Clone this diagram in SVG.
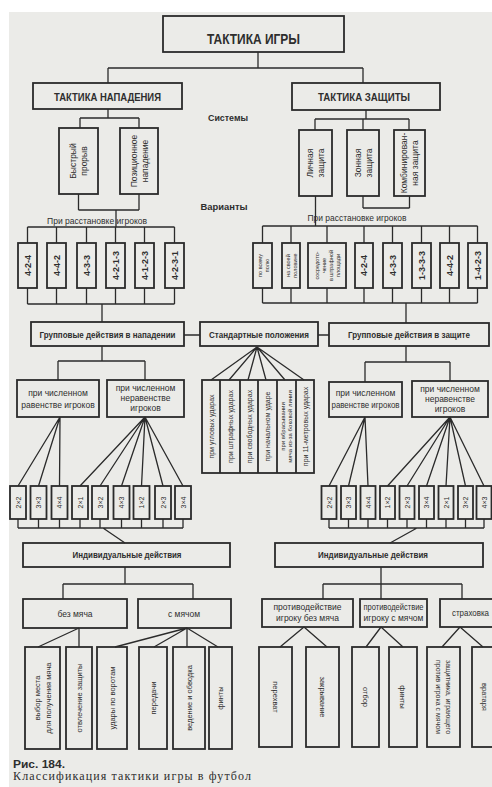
<svg xmlns="http://www.w3.org/2000/svg" width="492" height="787" viewBox="0 0 492 787">
<style>
.ln{stroke:#2b2b2b;stroke-width:1.3;fill:none}
.bx{fill:none;stroke:#2b2b2b;stroke-width:1.8}
text{font-family:"Liberation Sans","DejaVu Sans",sans-serif;fill:#2e2e2e}
.h1{font-size:14px;font-weight:bold}
.h2{font-size:10.5px;font-weight:bold}
.lb{font-size:9px;font-weight:bold}
.m{font-size:8.5px}
.r{font-size:8.5px;text-anchor:middle}
.v{font-size:9px;font-weight:bold;text-anchor:middle}
.s{font-size:7px;text-anchor:middle}
.xs{font-size:5.5px;text-anchor:middle}
.c{text-anchor:middle}
</style>
<rect x="0" y="0" width="492" height="787" fill="#ffffff"/>
<rect x="9" y="12" width="483" height="775" fill="#ebebe8"/>

<g id="connectors">
<path class="ln" d="M258,52V68M108,68H363M108,68V83M363,68V83"/>
<path class="ln" d="M108,109V118M80,118H139M80,118V128M139,118V128"/>
<path class="ln" d="M366,110V119M315,119H409M315,119V130M363,119V130M409,119V130"/>
<path class="ln" d="M78.5,194V210M139,194V210M78.5,210H139M116,210V227"/>
<path class="ln" d="M27.5,227H174.5M27.5,227V243M56.5,227V243M86.5,227V243M115.5,227V243M144.5,227V243M174.5,227V243"/>
<path class="ln" d="M315.5,196V226M363,196V208M409.5,196V208M363,208H409.5"/>
<path class="ln" d="M262.5,226H477.5M262.5,226V243M291,226V243M327,226V243M364,226V243M392.5,226V243M421.5,226V243M449.5,226V243M477.5,226V243"/>
<path class="ln" d="M27.5,288V304M56.5,288V304M86.5,288V304M115.5,288V304M144.5,288V304M174.5,288V304M27.5,304H174.5M102,304V322"/>
<path class="ln" d="M262.5,288V303M291,288V303M327,288V303M364,288V303M392.5,288V303M421.5,288V303M449.5,288V303M477.5,288V303M262.5,303H477.5M406,303V323"/>
<path class="ln" d="M184,335H200M318,335H329"/>
<path class="ln" d="M102,346V361M58,361H145M58,361V380M145,361V380"/>
<path class="ln" d="M406,346V362M365,362H450M365,362V382M450,362V381"/>
<path class="ln" d="M257,347L211,380M257,347L229,380M257,347L248,380M257,347L266,380M257,347L285,380M257,347L304,380"/>
<path class="ln" d="M60,417L18,486M60,417L38.5,486M60,417L59.5,486"/>
<path class="ln" d="M145,417L80,486M145,417L100,486M145,417L121.5,486M145,417L141.5,486M145,417L163,486M145,417L183,486"/>
<path class="ln" d="M365,417L329,486M365,417L348.5,486M365,417L368,486"/>
<path class="ln" d="M450,417L387.5,486M450,417L407,486M450,417L426.5,486M450,417L446,486M450,417L465.5,486M450,417L484,486"/>
<path class="ln" d="M18,519V528M38.5,519V528M59.5,519V528M80,519V528M100,519V528M121.5,519V528M141.5,519V528M163,519V528M183,519V528M18,528H183M103,528L125,543"/>
<path class="ln" d="M329,519V528M348.5,519V528M368,519V528M387.5,519V528M407,519V528M426.5,519V528M446,519V528M465.5,519V528M484,519V528M329,528H484M417,528L390,543"/>
<path class="ln" d="M125,567V584M63,584H193M63,584V599M193,584V599"/>
<path class="ln" d="M79,628L38,647M79,628V647M187,628L115,647M187,628L154,647M187,628V647M187,628L218,647"/>
<path class="ln" d="M381,567V599M323,584H462M323,584V599M462,584V599"/>
<path class="ln" d="M304,627L280,647M304,627L327,647M381,627L366,647M381,627L403,647M460,627L442,647M460,627L483,647"/>
</g>

<g id="n-root"><rect class="bx" x="163" y="16" width="181" height="36" stroke-width="2.5"/><text class="h1 c" x="253.5" y="44" textLength="93" lengthAdjust="spacingAndGlyphs">ТАКТИКА ИГРЫ</text></g>
<g id="n-attack"><rect class="bx" x="33" y="83" width="149" height="26"/><text class="h2 c" x="107.5" y="101" textLength="107" lengthAdjust="spacingAndGlyphs">ТАКТИКА НАПАДЕНИЯ</text></g>
<g id="n-defense"><rect class="bx" x="292" y="83" width="148" height="27"/><text class="h2 c" x="364" y="101" textLength="92" lengthAdjust="spacingAndGlyphs">ТАКТИКА ЗАЩИТЫ</text></g>
<g id="l-sys"><text class="lb c" x="228" y="121" textLength="40" lengthAdjust="spacingAndGlyphs">Системы</text></g>
<g id="l-var"><text class="lb c" x="224" y="210" textLength="47" lengthAdjust="spacingAndGlyphs">Варианты</text></g>

<g id="n-fast"><rect class="bx" x="59" y="128" width="39" height="66"/><text class="r" transform="translate(78.5,161) rotate(-90)"><tspan x="0" y="-2.5">Быстрый</tspan><tspan x="0" y="8.5">прорыв</tspan></text></g>
<g id="n-pos"><rect class="bx" x="120" y="128" width="38" height="66"/><text class="r" transform="translate(139,161) rotate(-90)"><tspan x="0" y="-2.5">Позиционное</tspan><tspan x="0" y="8.5">нападение</tspan></text></g>
<g id="n-personal"><rect class="bx" x="299" y="130" width="33" height="66"/><text class="r" transform="translate(315.5,163) rotate(-90)"><tspan x="0" y="-2.5">Личная</tspan><tspan x="0" y="8.5">защита</tspan></text></g>
<g id="n-zone"><rect class="bx" x="347" y="130" width="32" height="66"/><text class="r" transform="translate(363,163) rotate(-90)"><tspan x="0" y="-2.5">Зонная</tspan><tspan x="0" y="8.5">защита</tspan></text></g>
<g id="n-comb"><rect class="bx" x="394" y="130" width="31" height="66"/><text class="r" transform="translate(409.5,163) rotate(-90)"><tspan x="0" y="-2.5">Комбинирован-</tspan><tspan x="0" y="8.5">ная защита</tspan></text></g>

<g id="l-arr-left"><text class="m c" x="97" y="224" textLength="100" lengthAdjust="spacingAndGlyphs">При расстановке игроков</text></g>
<g id="l-arr-right"><text class="m c" x="357" y="221" textLength="99" lengthAdjust="spacingAndGlyphs">При расстановке игроков</text></g>

<g id="n-va1"><rect class="bx" x="18" y="243" width="19" height="45"/><text class="v" transform="translate(27.5,265.5) rotate(-90)" y="3.2">4-2-4</text></g>
<g id="n-va2"><rect class="bx" x="47" y="243" width="19" height="45"/><text class="v" transform="translate(56.5,265.5) rotate(-90)" y="3.2">4-4-2</text></g>
<g id="n-va3"><rect class="bx" x="77" y="243" width="19" height="45"/><text class="v" transform="translate(86.5,265.5) rotate(-90)" y="3.2">4-3-3</text></g>
<g id="n-va4"><rect class="bx" x="106" y="243" width="19" height="45"/><text class="v" transform="translate(115.5,265.5) rotate(-90)" y="3.2">4-2-1-3</text></g>
<g id="n-va5"><rect class="bx" x="135" y="243" width="19" height="45"/><text class="v" transform="translate(144.5,265.5) rotate(-90)" y="3.2">4-1-2-3</text></g>
<g id="n-va6"><rect class="bx" x="165" y="243" width="19" height="45"/><text class="v" transform="translate(174.5,265.5) rotate(-90)" y="3.2">4-2-3-1</text></g>

<g id="n-vd1"><rect class="bx" x="253" y="243" width="19" height="45"/><text class="xs" transform="translate(262.5,265.5) rotate(-90)"><tspan x="0" y="-1">по всему</tspan><tspan x="0" y="6">полю</tspan></text></g>
<g id="n-vd2"><rect class="bx" x="282" y="243" width="18" height="45"/><text class="xs" transform="translate(291,265.5) rotate(-90)"><tspan x="0" y="-1">на своей</tspan><tspan x="0" y="6">половине</tspan></text></g>
<g id="n-vd3"><rect class="bx" x="308" y="243" width="38" height="45"/><text class="xs" transform="translate(327,265.5) rotate(-90)"><tspan x="0" y="-8.5">сосредото-</tspan><tspan x="0" y="-1.5">чение</tspan><tspan x="0" y="5.5">в штрафной</tspan><tspan x="0" y="12.5">площади</tspan></text></g>
<g id="n-vd4"><rect class="bx" x="355" y="243" width="18" height="45"/><text class="v" transform="translate(364,265.5) rotate(-90)" y="3.2">4-2-4</text></g>
<g id="n-vd5"><rect class="bx" x="383" y="243" width="19" height="45"/><text class="v" transform="translate(392.5,265.5) rotate(-90)" y="3.2">4-3-3</text></g>
<g id="n-vd6"><rect class="bx" x="412" y="243" width="19" height="45"/><text class="v" transform="translate(421.5,265.5) rotate(-90)" y="3.2">1-3-3-3</text></g>
<g id="n-vd7"><rect class="bx" x="440" y="243" width="19" height="45"/><text class="v" transform="translate(449.5,265.5) rotate(-90)" y="3.2">4-4-2</text></g>
<g id="n-vd8"><rect class="bx" x="468" y="243" width="19" height="45"/><text class="v" transform="translate(477.5,265.5) rotate(-90)" y="3.2">1-4-2-3</text></g>

<g id="n-grp-att"><rect class="bx" x="31" y="322" width="153" height="24"/><text class="lb c" x="107.5" y="338" textLength="136" lengthAdjust="spacingAndGlyphs">Групповые действия в нападении</text></g>
<g id="n-std"><rect class="bx" x="200" y="322" width="118" height="24"/><text class="lb c" x="259" y="338" textLength="100" lengthAdjust="spacingAndGlyphs">Стандартные положения</text></g>
<g id="n-grp-def"><rect class="bx" x="329" y="323" width="160" height="23"/><text class="lb c" x="409" y="338" textLength="122" lengthAdjust="spacingAndGlyphs">Групповые действия в защите</text></g>

<g id="n-eq-att"><rect class="bx" x="17" y="380" width="82" height="37"/><text class="m c" x="58" y="396">при численном</text><text class="m c" x="58" y="408">равенстве игроков</text></g>
<g id="n-neq-att"><rect class="bx" x="107" y="380" width="77" height="37"/><text class="m c" x="145.5" y="391">при численном</text><text class="m c" x="145.5" y="401">неравенстве</text><text class="m c" x="145.5" y="411">игроков</text></g>
<g id="n-eq-def"><rect class="bx" x="329" y="382" width="73" height="35"/><text class="m c" x="365.5" y="396">при численном</text><text class="m c" x="365.5" y="408" textLength="68" lengthAdjust="spacingAndGlyphs">равенстве игроков</text></g>
<g id="n-neq-def"><rect class="bx" x="412" y="381" width="76" height="36"/><text class="m c" x="450" y="392">при численном</text><text class="m c" x="450" y="402">неравенстве</text><text class="m c" x="450" y="412">игроков</text></g>

<g id="n-std-boxes">
<rect class="bx" x="202" y="380" width="112" height="93"/>
<path class="bx" d="M220,380V473M240,380V473M258,380V473M277,380V473M296,380V473"/>
<text class="s" transform="translate(211,426.5) rotate(-90)" y="2.5">при угловых ударах</text>
<text class="s" transform="translate(230,426.5) rotate(-90)" y="2.5">при штрафных ударах</text>
<text class="s" transform="translate(249,426.5) rotate(-90)" y="2.5">при свободных ударах</text>
<text class="s" transform="translate(267.5,426.5) rotate(-90)" y="2.5">при начальном ударе</text>
<text class="s" transform="translate(286.5,426.5) rotate(-90)" style="font-size:6px"><tspan x="0" y="-1.5">при вбрасывании</tspan><tspan x="0" y="5.5">мяча из-за боковой линии</tspan></text>
<text class="s" transform="translate(305,426.5) rotate(-90)" y="2.5">при 11-метровых ударах</text>
</g>

<g id="n-sa1"><rect class="bx" x="10" y="486" width="16" height="33"/><text class="s" transform="translate(18,502.5) rotate(-90)" y="2.5">2×2</text></g>
<g id="n-sa2"><rect class="bx" x="30.5" y="486" width="16" height="33"/><text class="s" transform="translate(38.5,502.5) rotate(-90)" y="2.5">3×3</text></g>
<g id="n-sa3"><rect class="bx" x="51.5" y="486" width="16" height="33"/><text class="s" transform="translate(59.5,502.5) rotate(-90)" y="2.5">4×4</text></g>
<g id="n-sa4"><rect class="bx" x="72" y="486" width="16" height="33"/><text class="s" transform="translate(80,502.5) rotate(-90)" y="2.5">2×1</text></g>
<g id="n-sa5"><rect class="bx" x="92" y="486" width="16" height="33"/><text class="s" transform="translate(100,502.5) rotate(-90)" y="2.5">3×2</text></g>
<g id="n-sa6"><rect class="bx" x="113.5" y="486" width="16" height="33"/><text class="s" transform="translate(121.5,502.5) rotate(-90)" y="2.5">4×3</text></g>
<g id="n-sa7"><rect class="bx" x="133.5" y="486" width="16" height="33"/><text class="s" transform="translate(141.5,502.5) rotate(-90)" y="2.5">1×2</text></g>
<g id="n-sa8"><rect class="bx" x="155" y="486" width="16" height="33"/><text class="s" transform="translate(163,502.5) rotate(-90)" y="2.5">2×3</text></g>
<g id="n-sa9"><rect class="bx" x="175" y="486" width="16" height="33"/><text class="s" transform="translate(183,502.5) rotate(-90)" y="2.5">3×4</text></g>

<g id="n-sd1"><rect class="bx" x="321.5" y="486" width="15" height="33"/><text class="s" transform="translate(329,502.5) rotate(-90)" y="2.5">2×2</text></g>
<g id="n-sd2"><rect class="bx" x="341" y="486" width="15" height="33"/><text class="s" transform="translate(348.5,502.5) rotate(-90)" y="2.5">3×3</text></g>
<g id="n-sd3"><rect class="bx" x="360.5" y="486" width="15" height="33"/><text class="s" transform="translate(368,502.5) rotate(-90)" y="2.5">4×4</text></g>
<g id="n-sd4"><rect class="bx" x="380" y="486" width="15" height="33"/><text class="s" transform="translate(387.5,502.5) rotate(-90)" y="2.5">1×2</text></g>
<g id="n-sd5"><rect class="bx" x="399.5" y="486" width="15" height="33"/><text class="s" transform="translate(407,502.5) rotate(-90)" y="2.5">2×3</text></g>
<g id="n-sd6"><rect class="bx" x="419" y="486" width="15" height="33"/><text class="s" transform="translate(426.5,502.5) rotate(-90)" y="2.5">3×4</text></g>
<g id="n-sd7"><rect class="bx" x="438.5" y="486" width="15" height="33"/><text class="s" transform="translate(446,502.5) rotate(-90)" y="2.5">2×1</text></g>
<g id="n-sd8"><rect class="bx" x="458" y="486" width="15" height="33"/><text class="s" transform="translate(465.5,502.5) rotate(-90)" y="2.5">3×2</text></g>
<g id="n-sd9"><rect class="bx" x="476.5" y="486" width="15" height="33"/><text class="s" transform="translate(484,502.5) rotate(-90)" y="2.5">4×3</text></g>

<g id="n-ind-att"><rect class="bx" x="23" y="543" width="207" height="24"/><text class="lb c" x="127" y="558" textLength="109" lengthAdjust="spacingAndGlyphs">Индивидуальные действия</text></g>
<g id="n-ind-def"><rect class="bx" x="275" y="543" width="208" height="24"/><text class="lb c" x="373" y="558" textLength="110" lengthAdjust="spacingAndGlyphs">Индивидуальные действия</text></g>

<g id="n-noball"><rect class="bx" x="23" y="599" width="104" height="29"/><text class="m c" x="75" y="617">без мяча</text></g>
<g id="n-ball"><rect class="bx" x="138" y="599" width="93" height="29"/><text class="m c" x="184" y="617">с мячом</text></g>
<g id="n-opp-noball"><rect class="bx" x="262" y="599" width="91" height="28"/><text class="m c" x="307.5" y="610">противодействие</text><text class="m c" x="307.5" y="621">игроку без мяча</text></g>
<g id="n-opp-ball"><rect class="bx" x="360" y="599" width="67" height="28"/><text class="m c" x="393.5" y="610" textLength="60" lengthAdjust="spacingAndGlyphs">противодействие</text><text class="m c" x="393.5" y="621">игроку  с мячом</text></g>
<g id="n-cover"><rect class="bx" x="440" y="599" width="60" height="28"/><text class="m" x="452" y="616" textLength="37" lengthAdjust="spacingAndGlyphs">страховка</text></g>

<g id="n-b1"><rect class="bx" x="25" y="647" width="35" height="102"/><text class="s" style="font-size:7.5px" transform="translate(42.5,698) rotate(-90)"><tspan x="0" y="-3">выбор места</tspan><tspan x="0" y="8">для получения мяча</tspan></text></g>
<g id="n-b2"><rect class="bx" x="66" y="647" width="26" height="102"/><text class="s" style="font-size:7.5px" transform="translate(79,698) rotate(-90)" y="2.7">отвлечение защиты</text></g>
<g id="n-b3"><rect class="bx" x="97" y="647" width="30" height="102"/><text class="s" style="font-size:7.5px" transform="translate(112,698) rotate(-90)" y="2.7">удары по воротам</text></g>
<g id="n-b4"><rect class="bx" x="139" y="647" width="28" height="102"/><text class="s" style="font-size:7.5px" transform="translate(153,698) rotate(-90)" y="2.7">передачи</text></g>
<g id="n-b5"><rect class="bx" x="173" y="647" width="32" height="102"/><text class="s" style="font-size:7.5px" transform="translate(189,698) rotate(-90)" y="2.7">ведение и обводка</text></g>
<g id="n-b6"><rect class="bx" x="209" y="647" width="23" height="102"/><text class="s" style="font-size:7.5px" transform="translate(220.5,698) rotate(-90)" y="2.7">финты</text></g>

<g id="n-d1"><rect class="bx" x="259" y="647" width="33" height="100"/><text class="s" style="font-size:7.5px" transform="translate(275.5,697) rotate(90)" y="2.7">перехват</text></g>
<g id="n-d2"><rect class="bx" x="306" y="647" width="33" height="100"/><text class="s" style="font-size:7.5px" transform="translate(322.5,697) rotate(90)" y="2.7">закрывание</text></g>
<g id="n-d3"><rect class="bx" x="352" y="647" width="27" height="100"/><text class="s" style="font-size:7.5px" transform="translate(365.5,697) rotate(90)" y="2.7">отбор</text></g>
<g id="n-d4"><rect class="bx" x="389" y="647" width="28" height="100"/><text class="s" style="font-size:7.5px" transform="translate(403,697) rotate(90)" y="2.7">финты</text></g>
<g id="n-d5"><rect class="bx" x="427" y="647" width="33" height="100"/><text class="s" style="font-size:7px" transform="translate(443.5,697) rotate(90)"><tspan x="0" y="-2.5">защитника, играющего</tspan><tspan x="0" y="7.5">против игрока с мячом</tspan></text></g>
<g id="n-d6"><rect class="bx" x="472" y="647" width="30" height="100"/><text class="s" style="font-size:7.5px" transform="translate(485,697) rotate(90)" y="2.7">вратаря</text></g>

<g id="caption">
<text x="13" y="768" style="font-size:10.5px;font-weight:bold" textLength="52" lengthAdjust="spacingAndGlyphs">Рис. 184.</text>
<text x="13" y="780" style="font-family:'Liberation Serif',serif;font-size:12px" textLength="238" lengthAdjust="spacing">Классификация тактики игры в футбол</text>
</g>
</svg>
